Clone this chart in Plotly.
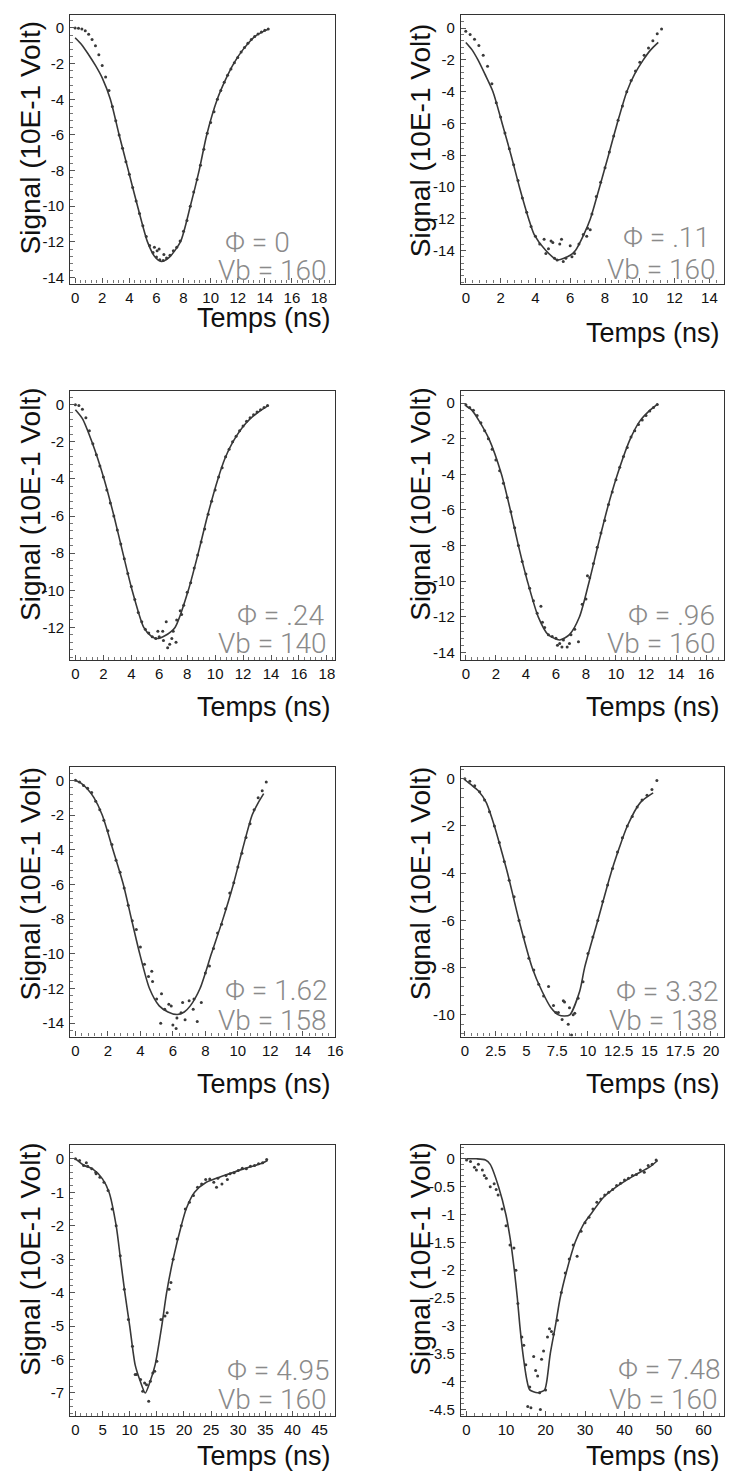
import plotly.graph_objects as go

# ---------------------------------------------------------------------------
# Measured pulses (dots) and fitted pulse shapes (lines), one set per panel.
# Time in ns, signal in units of 10E-1 V.
# ---------------------------------------------------------------------------

# Phi = 0, Vb = 160
p1_fit_t = [0, 0.5, 1.0, 1.5, 2.0, 2.6, 3.25, 3.93, 4.61, 5.34, 5.9, 6.36, 6.9, 7.77, 8.5, 9.15,
            9.71, 10.49, 11.1, 11.7, 12.4, 13.3, 14.3]
p1_fit_v = [-0.55, -0.95, -1.5, -2.1, -2.8, -4.0, -6.0, -8.0, -10.0, -12.0, -12.85, -13.1, -12.9,
            -12.0, -10.0, -8.0, -6.0, -4.0, -2.9, -2.0, -1.2, -0.45, -0.05]
p1_data_t = [0.0, 0.25, 0.5, 0.75, 1.0, 1.25, 1.5, 1.75, 2.0, 2.25, 2.5, 2.75, 3.0, 3.25, 3.5, 3.75,
             4.0, 4.25, 4.5, 4.75, 5.0, 5.25, 5.5, 5.75, 6.0, 6.25, 6.5, 6.75, 7.0, 7.25, 7.5, 7.75,
             8.0, 8.25, 8.5, 8.75, 9.0, 9.25, 9.5, 9.75, 10.0, 10.25, 10.5, 10.75, 11.0, 11.25, 11.5,
             11.75, 12.0, 12.25, 12.5, 12.75, 13.0, 13.25, 13.5, 13.75, 14.0, 14.25,
             5.85, 6.05, 6.2, 6.55]
p1_data_v = [0.0, -0.02, -0.05, -0.15, -0.35, -0.65, -1.0, -1.5, -2.1, -2.75, -3.5, -4.4, -5.2, -6.0,
             -6.75, -7.5, -8.2, -8.95, -9.7, -10.4, -11.1, -11.7, -12.2, -12.6, -12.85, -13.0, -13.05,
             -12.9, -12.75, -12.5, -12.3, -11.95, -11.4, -10.8, -10.0, -9.2, -8.5, -7.7, -6.8, -5.9,
             -5.3, -4.7, -4.0, -3.5, -3.05, -2.65, -2.3, -1.95, -1.65, -1.35, -1.1, -0.85, -0.65,
             -0.48, -0.33, -0.22, -0.12, -0.06,
             -12.3, -12.5, -12.4, -12.7]

# Phi = .11, Vb = 160
p2_fit_t = [0, 0.35, 0.7, 1.1, 1.56, 2.09, 2.6, 3.08, 3.61, 3.93, 4.6, 5.26, 6.0, 6.3, 6.78, 7.16,
            7.69, 8.2, 8.7, 9.25, 9.7, 10.2, 10.6, 11.06]
p2_fit_v = [-0.9, -1.35, -2.0, -2.9, -4.0, -6.0, -8.0, -10.0, -12.0, -13.0, -14.0, -14.6, -14.3,
            -14.0, -13.0, -12.0, -10.0, -8.0, -6.0, -4.0, -2.9, -2.0, -1.4, -0.9]
p2_data_t = [0.0, 0.25, 0.5, 0.75, 1.0, 1.25, 1.5, 1.75, 2.0, 2.25, 2.5, 2.75, 3.0, 3.25, 3.5, 3.75,
             4.0, 4.25, 4.5, 4.75, 5.0, 5.25, 5.5, 5.75, 6.0, 6.25, 6.5, 6.75, 7.0, 7.25, 7.5, 7.75,
             8.0, 8.25, 8.5, 8.75, 9.0, 9.25, 9.5, 9.75, 10.0, 10.25, 10.5, 10.75, 11.0, 11.25,
             4.6, 5.1, 5.6, 6.1, 6.95, 7.15, 4.9, 5.4]
p2_data_v = [-0.2, -0.4, -0.7, -1.1, -1.7, -2.4, -3.5, -4.7, -5.6, -6.6, -7.6, -8.6, -9.6, -10.7,
             -11.6, -12.5, -13.1, -13.6, -13.3, -13.9, -13.5, -14.6, -13.3, -14.5, -13.7, -14.2,
             -13.6, -13.0, -12.6, -11.7, -10.6, -9.7, -8.8, -7.8, -6.8, -5.8, -4.9, -4.0, -3.3, -2.7,
             -2.15, -1.7, -1.25, -0.8, -0.35, -0.05,
             -14.2, -14.5, -14.7, -14.4, -13.1, -12.7, -13.4, -13.6]

# Phi = .24, Vb = 140
p3_fit_t = [0, 0.5, 1.18, 2.05, 2.76, 3.4, 4.06, 4.89, 5.4, 5.83, 6.4, 7.13, 8.08, 8.79, 9.45, 10.2,
            10.7, 11.27, 12.2, 13.0, 13.8]
p3_fit_v = [-0.27, -0.75, -2.0, -4.0, -6.0, -8.0, -10.0, -12.0, -12.45, -12.6, -12.45, -12.0, -10.0,
            -8.0, -6.0, -4.0, -2.9, -2.0, -1.0, -0.45, -0.05]
p3_data_t = [0.0, 0.25, 0.5, 0.75, 1.0, 1.25, 1.5, 1.75, 2.0, 2.25, 2.5, 2.75, 3.0, 3.25, 3.5, 3.75,
             4.0, 4.25, 4.5, 4.75, 5.0, 5.25, 5.5, 5.75, 6.0, 6.25, 6.5, 6.75, 7.0, 7.25, 7.5, 7.75,
             8.0, 8.25, 8.5, 8.75, 9.0, 9.25, 9.5, 9.75, 10.0, 10.25, 10.5, 10.75, 11.0, 11.25, 11.5,
             11.75, 12.0, 12.25, 12.5, 12.75, 13.0, 13.25, 13.5, 13.75,
             6.6, 6.9, 7.2, 5.9, 6.3, 7.6]
p3_data_v = [0.0, -0.05, -0.25, -0.7, -1.4, -2.1, -2.7, -3.3, -3.9, -4.6, -5.3, -6.0, -6.75, -7.5,
             -8.3, -9.1, -9.8, -10.5, -11.2, -11.7, -12.1, -12.3, -12.5, -12.6, -12.5, -12.2, -11.7,
             -12.9, -12.2, -11.6, -11.1, -10.8, -10.1, -9.6, -8.8, -8.1, -7.4, -6.7, -5.9, -5.2, -4.6,
             -3.9, -3.4, -2.8, -2.4, -2.0, -1.7, -1.4, -1.15, -0.9, -0.7, -0.55, -0.4, -0.28, -0.15,
             -0.05,
             -13.1, -12.6, -12.8, -12.2, -12.7, -11.3]

# Phi = .96, Vb = 160
p4_fit_t = [0, 0.4, 0.88, 1.53, 2.37, 2.96, 3.5, 4.1, 4.82, 5.48, 6.25, 6.9, 7.57, 8.22, 8.8, 9.4,
            10.1, 10.96, 11.6, 12.2, 12.8]
p4_fit_v = [-0.15, -0.4, -1.0, -2.0, -4.0, -6.0, -8.0, -10.0, -12.0, -13.0, -13.3, -13.0, -12.0,
            -10.0, -8.0, -6.0, -4.0, -2.0, -1.0, -0.45, -0.05]
p4_data_t = [0.0, 0.25, 0.5, 0.75, 1.0, 1.25, 1.5, 1.75, 2.0, 2.25, 2.5, 2.75, 3.0, 3.25, 3.5, 3.75,
             4.0, 4.25, 4.5, 4.75, 5.0, 5.25, 5.5, 5.75, 6.0, 6.25, 6.5, 6.75, 7.0, 7.25, 7.5, 7.75,
             8.0, 8.25, 8.5, 8.75, 9.0, 9.25, 9.5, 9.75, 10.0, 10.25, 10.5, 10.75, 11.0, 11.25, 11.5,
             11.75, 12.0, 12.25, 12.5, 12.75,
             6.1, 6.4, 6.9, 5.1, 8.1]
p4_data_v = [-0.1, -0.25, -0.4, -0.7, -1.1, -1.55, -2.0, -2.6, -3.2, -3.8, -4.5, -5.3, -6.1, -7.0,
             -8.0, -8.9, -9.6, -10.4, -11.1, -11.8, -11.4, -12.6, -13.0, -13.1, -13.2, -13.5, -13.3,
             -13.7, -13.0, -12.7, -13.4, -11.3, -11.0, -9.8, -9.0, -8.1, -7.3, -6.6, -5.7, -5.0,
             -4.3, -3.6, -3.0, -2.5, -1.9, -1.55, -1.2, -0.95, -0.7, -0.45, -0.25, -0.08,
             -13.6, -13.7, -13.5, -12.3, -9.7]

# Phi = 1.62, Vb = 158
p5_fit_t = [0, 0.4, 0.74, 1.14, 1.65, 2.31, 2.95, 3.45, 3.96, 4.56, 5.16, 5.7, 6.27, 6.7, 7.07, 7.67,
            8.37, 9.08, 9.72, 10.28, 10.88, 11.25, 11.59]
p5_fit_v = [0, -0.2, -0.5, -1.0, -2.0, -4.0, -6.0, -8.0, -10.0, -12.0, -13.0, -13.35, -13.5, -13.35,
            -13.0, -12.0, -10.0, -8.0, -6.0, -4.0, -2.0, -1.3, -0.77]
p5_data_t = [0.0, 0.25, 0.5, 0.75, 1.0, 1.25, 1.5, 1.75, 2.0, 2.25, 2.5, 2.75, 3.0, 3.25, 3.5, 3.75,
             4.0, 4.25, 4.5, 4.75, 5.0, 5.25, 5.5, 5.75, 6.0, 6.25, 6.5, 6.75, 7.0, 7.25, 7.5, 7.75,
             8.0, 8.25, 8.5, 8.75, 9.0, 9.25, 9.5, 9.75, 10.0, 10.25, 10.5, 10.75, 11.0, 11.25, 11.5,
             11.75,
             6.2, 5.9, 6.6, 7.3, 5.3, 4.7]
p5_data_v = [0.0, -0.1, -0.3, -0.45, -0.7, -1.2, -1.7, -2.3, -2.9, -3.7, -4.6, -5.3, -6.2, -7.2,
             -8.1, -8.6, -9.6, -10.6, -11.3, -11.6, -12.6, -14.0, -13.2, -12.9, -14.1, -13.7, -13.4,
             -13.8, -12.7, -13.2, -13.9, -12.8, -11.1, -10.7, -9.7, -8.8, -8.3, -7.4, -6.5, -5.9,
             -5.0, -4.2, -3.3, -2.5, -1.7, -1.0, -0.6, -0.1,
             -14.3, -13.0, -12.8, -12.6, -12.3, -11.0]

# Phi = 3.32, Vb = 138
p6_fit_t = [0, 0.5, 1.07, 1.73, 2.4, 3.0, 3.47, 4.4, 5.47, 6.27, 7.0, 7.6, 8.1, 8.53, 9.33, 9.73,
            10.8, 11.87, 12.5, 13.2, 14.27, 15.3]
p6_fit_v = [-0.05, -0.25, -0.5, -1.0, -2.0, -3.1, -4.0, -6.0, -8.0, -9.0, -9.7, -10.0, -10.05,
            -10.0, -9.0, -8.0, -6.0, -4.0, -3.0, -2.0, -1.0, -0.6]
p6_data_t = [0.0, 0.4, 0.8, 1.2, 1.6, 2.0, 2.4, 2.8, 3.2, 3.6, 4.0, 4.4, 4.8, 5.2, 5.6, 6.0, 6.4,
             6.8, 7.2, 7.6, 8.0, 8.4, 8.8, 9.2, 9.6, 10.0, 10.4, 10.8, 11.2, 11.6, 12.0, 12.4, 12.8,
             13.2, 13.6, 14.0, 14.4, 14.8, 15.2, 15.6,
             7.9, 8.1, 8.67, 8.93, 8.5, 7.4]
p6_data_v = [0.0, -0.1, -0.3, -0.55, -0.9, -1.4, -2.0, -2.7, -3.5, -4.3, -5.0, -6.0, -6.7, -7.6,
             -8.1, -8.7, -9.2, -8.8, -9.6, -9.9, -9.4, -10.4, -10.0, -9.3, -8.6, -7.4, -6.7, -6.0,
             -5.2, -4.5, -3.8, -3.1, -2.5, -2.0, -1.6, -1.2, -0.9, -0.7, -0.45, -0.07,
             -10.2, -9.45, -10.85, -9.93, -9.7, -9.9]

# Phi = 4.95, Vb = 160
p7_fit_t = [0, 1.64, 3.15, 4.97, 6.19, 7.5, 8.3, 9.1, 10.0, 11.0, 11.95, 12.86, 13.77, 14.68, 15.9,
            16.8, 18.0, 19.5, 20.4, 21.95, 24.1, 27.4, 31.0, 34.1, 35.4]
p7_fit_v = [0, -0.2, -0.3, -0.6, -1.0, -2.0, -3.0, -4.0, -5.0, -6.16, -6.65, -7.0, -6.65, -6.16,
            -5.0, -4.0, -3.0, -2.0, -1.5, -1.0, -0.7, -0.5, -0.3, -0.15, -0.05]
p7_data_t = [0.0, 0.75, 1.5, 2.25, 3.0, 3.75, 4.5, 5.25, 6.0, 6.75, 7.5, 8.25, 9.0, 9.75, 10.5,
             11.25, 12.0, 12.75, 13.5, 14.25, 15.0, 15.75, 16.5, 17.25, 18.0, 18.75, 19.5, 20.25,
             21.0, 21.75, 22.5, 23.25, 24.0, 24.75, 25.5, 26.25, 27.0, 27.75, 28.5, 29.25, 30.0,
             30.75, 31.5, 32.25, 33.0, 33.75, 34.5, 35.25,
             11.0, 12.4, 13.1, 13.8, 14.6, 16.9, 17.6, 26.0, 28.0, 2.0, 3.8]
p7_data_v = [0.0, -0.05, -0.2, -0.22, -0.3, -0.4, -0.55, -0.7, -0.95, -1.5, -2.0, -2.9, -3.9, -4.8,
             -5.6, -6.45, -6.6, -6.7, -7.25, -6.4, -6.05, -4.8, -4.7, -3.9, -3.0, -2.4, -2.0, -1.5,
             -1.3, -1.1, -0.85, -0.75, -0.62, -0.6, -0.7, -0.58, -0.75, -0.5, -0.45, -0.42, -0.35,
             -0.28, -0.3, -0.22, -0.2, -0.15, -0.12, -0.02,
             -6.45, -6.95, -6.75, -6.65, -6.35, -4.6, -3.7, -0.85, -0.62, -0.12, -0.45]

# Phi = 7.48, Vb = 160
p8_fit_t = [0, 2.5, 4.8, 6.0, 8.1, 9.96, 11.2, 12.1, 12.86, 13.5, 14.27, 15.35, 16.0, 18.0, 19.75,
            20.3, 21.2, 22.5, 23.7, 25.4, 27.5, 29.5, 31.4, 34.7, 38.0, 42.2, 46.3, 48.4]
p8_fit_v = [0, 0, -0.02, -0.1, -0.5, -1.0, -1.5, -2.0, -2.5, -3.0, -3.5, -4.0, -4.15, -4.2, -4.15,
            -4.0, -3.5, -3.0, -2.5, -2.0, -1.5, -1.19, -1.0, -0.69, -0.5, -0.31, -0.15, -0.03]
p8_data_t = [0, 1, 2, 3, 4, 5, 6, 7, 8, 9, 10, 11, 12, 13, 14, 15, 16, 17, 18, 19, 20, 21, 22, 23,
             24, 25, 26, 27, 28, 29, 30, 31, 32, 33, 34, 35, 36, 37, 38, 39, 40, 41, 42, 43, 44, 45,
             46, 47, 48,
             15.5, 16.3, 18.7, 17.5, 18.5, 19.5, 20.5, 21.5, 2.5, 4.5, 7.5, 12.5, 14.5]
p8_data_v = [-0.02, -0.05, -0.15, -0.1, -0.2, -0.35, -0.5, -0.45, -0.65, -0.9, -1.2, -1.55, -1.6,
             -2.6, -3.2, -3.7, -4.1, -3.55, -3.9, -3.6, -4.15, -3.05, -3.15, -2.9, -2.4, -2.05, -1.8,
             -1.55, -1.75, -1.3, -1.15, -1.05, -0.9, -0.78, -0.72, -0.65, -0.6, -0.55, -0.48, -0.44,
             -0.38, -0.35, -0.3, -0.28, -0.2, -0.24, -0.12, -0.1, -0.02,
             -4.45, -4.47, -4.5, -3.8, -4.2, -3.45, -3.2, -3.1, -0.2, -0.3, -0.55, -2.0, -3.35]

# Run parameters printed in each panel
phi_labels = ["0", ".11", ".24", ".96", "1.62", "3.32", "4.95", "7.48"]
vb_labels = ["160", "160", "140", "160", "158", "138", "160", "160"]

# Axis tick values per panel
y_ticks = [
    [0, -2, -4, -6, -8, -10, -12, -14],
    [0, -2, -4, -6, -8, -10, -12, -14],
    [0, -2, -4, -6, -8, -10, -12],
    [0, -2, -4, -6, -8, -10, -12, -14],
    [0, -2, -4, -6, -8, -10, -12, -14],
    [0, -2, -4, -6, -8, -10],
    [0, -1, -2, -3, -4, -5, -6, -7],
    [0, -0.5, -1, -1.5, -2, -2.5, -3, -3.5, -4, -4.5],
]
x_ticks = [
    [0, 2, 4, 6, 8, 10, 12, 14, 16, 18],
    [0, 2, 4, 6, 8, 10, 12, 14],
    [0, 2, 4, 6, 8, 10, 12, 14, 16, 18],
    [0, 2, 4, 6, 8, 10, 12, 14, 16],
    [0, 2, 4, 6, 8, 10, 12, 14, 16],
    [0, 2.5, 5, 7.5, 10, 12.5, 15, 17.5, 20],
    [0, 5, 10, 15, 20, 25, 30, 35, 40, 45],
    [0, 10, 20, 30, 40, 50, 60],
]

fits = [(p1_fit_t, p1_fit_v), (p2_fit_t, p2_fit_v), (p3_fit_t, p3_fit_v), (p4_fit_t, p4_fit_v),
        (p5_fit_t, p5_fit_v), (p6_fit_t, p6_fit_v), (p7_fit_t, p7_fit_v), (p8_fit_t, p8_fit_v)]
measured = [(p1_data_t, p1_data_v), (p2_data_t, p2_data_v), (p3_data_t, p3_data_v),
            (p4_data_t, p4_data_v), (p5_data_t, p5_data_v), (p6_data_t, p6_data_v),
            (p7_data_t, p7_data_v), (p8_data_t, p8_data_v)]

# ---------------------------------------------------------------------------
# Layout geometry (pixels on a 736 x 1474 page)
# ---------------------------------------------------------------------------
W, H = 736, 1474


def fx(px):
    return px / W


def fy(py):
    return 1 - py / H


col_px = [(71, 339), (466, 732)]
row_px = [(15, 284), (392, 661), (768, 1038), (1147, 1418)]

x_ranges = [[-0.36, 19.2], [-0.28, 14.84], [-0.37, 18.6], [-0.33, 17.2],
            [-0.32, 16.0], [-0.32, 21.06], [-0.97, 47.9], [-1.42, 65.2]]
y_ranges = [[-14.34, 0.73], [-16.09, 0.83], [-13.76, 0.71], [-14.43, 0.65],
            [-14.77, 0.77], [-10.92, 0.5], [-7.69, 0.4], [-4.62, 0.24]]
x_minor = [0.4, 0.4, 0.4, 0.4, 0.4, 0.5, 1, 2]
y_minor = [0.4, 0.4, 0.4, 0.4, 0.4, 0.4, 0.2, 0.1]

# label placement: (phi x, phi anchor, phi y, vb x, vb y) in page pixels
label_pos = [
    (225, "left", 243, 333, 271),
    (720, "right", 238, 726, 270),
    (330, "right", 616, 333, 644),
    (725, "right", 616, 726, 644),
    (333, "right", 992, 333, 1022),
    (728, "right", 993, 728, 1022),
    (335, "right", 1372, 333, 1401),
    (730, "right", 1371, 728, 1401),
]
xtitle_y = [318, 333, 708, 708, 1085, 1085, 1458, 1458]
ytitle_x = [31, 425]
ytitle_y = [138, 141, 505, 505, 885, 885, 1261, 1261]

FONT = "Liberation Sans, Arial, sans-serif"
LIGHT_FONT = "Roboto, Liberation Sans, sans-serif"
INK = "#111111"
LABEL_GREY = "#8a8a8a"


def fmt(v):
    return f"{v:g}"


fig = go.Figure()
layout = dict(
    width=W, height=H,
    margin=dict(l=0, r=0, t=0, b=0),
    paper_bgcolor="white", plot_bgcolor="white",
    showlegend=False,
    font=dict(family=FONT, color=INK),
)
annotations = []

for i in range(8):
    n = i + 1
    suffix = "" if n == 1 else str(n)
    col, row = i % 2, i // 2
    x0, x1 = col_px[col]
    ytop, ybot = row_px[row]

    ft, fv = fits[i]
    mt, mv = measured[i]
    fig.add_trace(go.Scatter(
        x=mt, y=mv, mode="markers", xaxis="x" + suffix, yaxis="y" + suffix,
        marker=dict(size=3, color="#3a3a3a", line=dict(width=0)),
        hoverinfo="skip",
    ))
    fig.add_trace(go.Scatter(
        x=ft, y=fv, mode="lines", xaxis="x" + suffix, yaxis="y" + suffix,
        line=dict(color="#383838", width=1.6, shape="spline", smoothing=0.7),
        hoverinfo="skip",
    ))

    common = dict(
        showline=True, mirror=True, linecolor="#333", linewidth=1.3,
        showgrid=False, zeroline=False,
        ticks="inside", ticklen=5, tickwidth=1, tickcolor="#555",
        tickfont=dict(family=FONT, size=15, color=INK),
        tickmode="array", tickangle=0,
    )
    layout["xaxis" + suffix] = dict(
        common, domain=[fx(x0), fx(x1)], range=x_ranges[i], anchor="y" + suffix,
        tickvals=x_ticks[i], ticktext=[fmt(v) for v in x_ticks[i]],
        minor=dict(dtick=x_minor[i], tick0=0, ticks="inside", ticklen=3,
                   tickwidth=1, tickcolor="#777"),
    )
    layout["yaxis" + suffix] = dict(
        common, domain=[fy(ybot), fy(ytop)], range=y_ranges[i], anchor="x" + suffix,
        tickvals=y_ticks[i], ticktext=[fmt(v) for v in y_ticks[i]],
        ticklabelstandoff=2,
        minor=dict(dtick=y_minor[i], tick0=0, ticks="inside", ticklen=3,
                   tickwidth=1, tickcolor="#777"),
    )

    px_phi, anc_phi, py_phi, px_vb, py_vb = label_pos[i]
    annotations.append(dict(
        text=f"Φ = {phi_labels[i]}", xref="paper", yref="paper",
        x=fx(px_phi), y=fy(py_phi), xanchor=anc_phi, yanchor="middle",
        showarrow=False, font=dict(family=LIGHT_FONT, size=28, color=LABEL_GREY, weight=300),
    ))
    annotations.append(dict(
        text=f"Vb = {vb_labels[i]}", xref="paper", yref="paper",
        x=fx(px_vb), y=fy(py_vb), xanchor="right", yanchor="middle",
        showarrow=False, font=dict(family=LIGHT_FONT, size=28, color=LABEL_GREY, weight=300),
    ))
    annotations.append(dict(
        text="Temps (ns)", xref="paper", yref="paper",
        x=fx(x1 - 2), y=fy(xtitle_y[i]), xanchor="right", yanchor="middle",
        showarrow=False, font=dict(family=FONT, size=27, color=INK),
    ))
    annotations.append(dict(
        text="Signal (10E-1 Volt)", xref="paper", yref="paper", textangle=-90,
        x=fx(ytitle_x[col]), y=fy(ytitle_y[i]), xanchor="center", yanchor="middle",
        showarrow=False, font=dict(family=FONT, size=28, color=INK),
    ))

layout["annotations"] = annotations
fig.update_layout(**layout)
fig.write_html("out.html")
